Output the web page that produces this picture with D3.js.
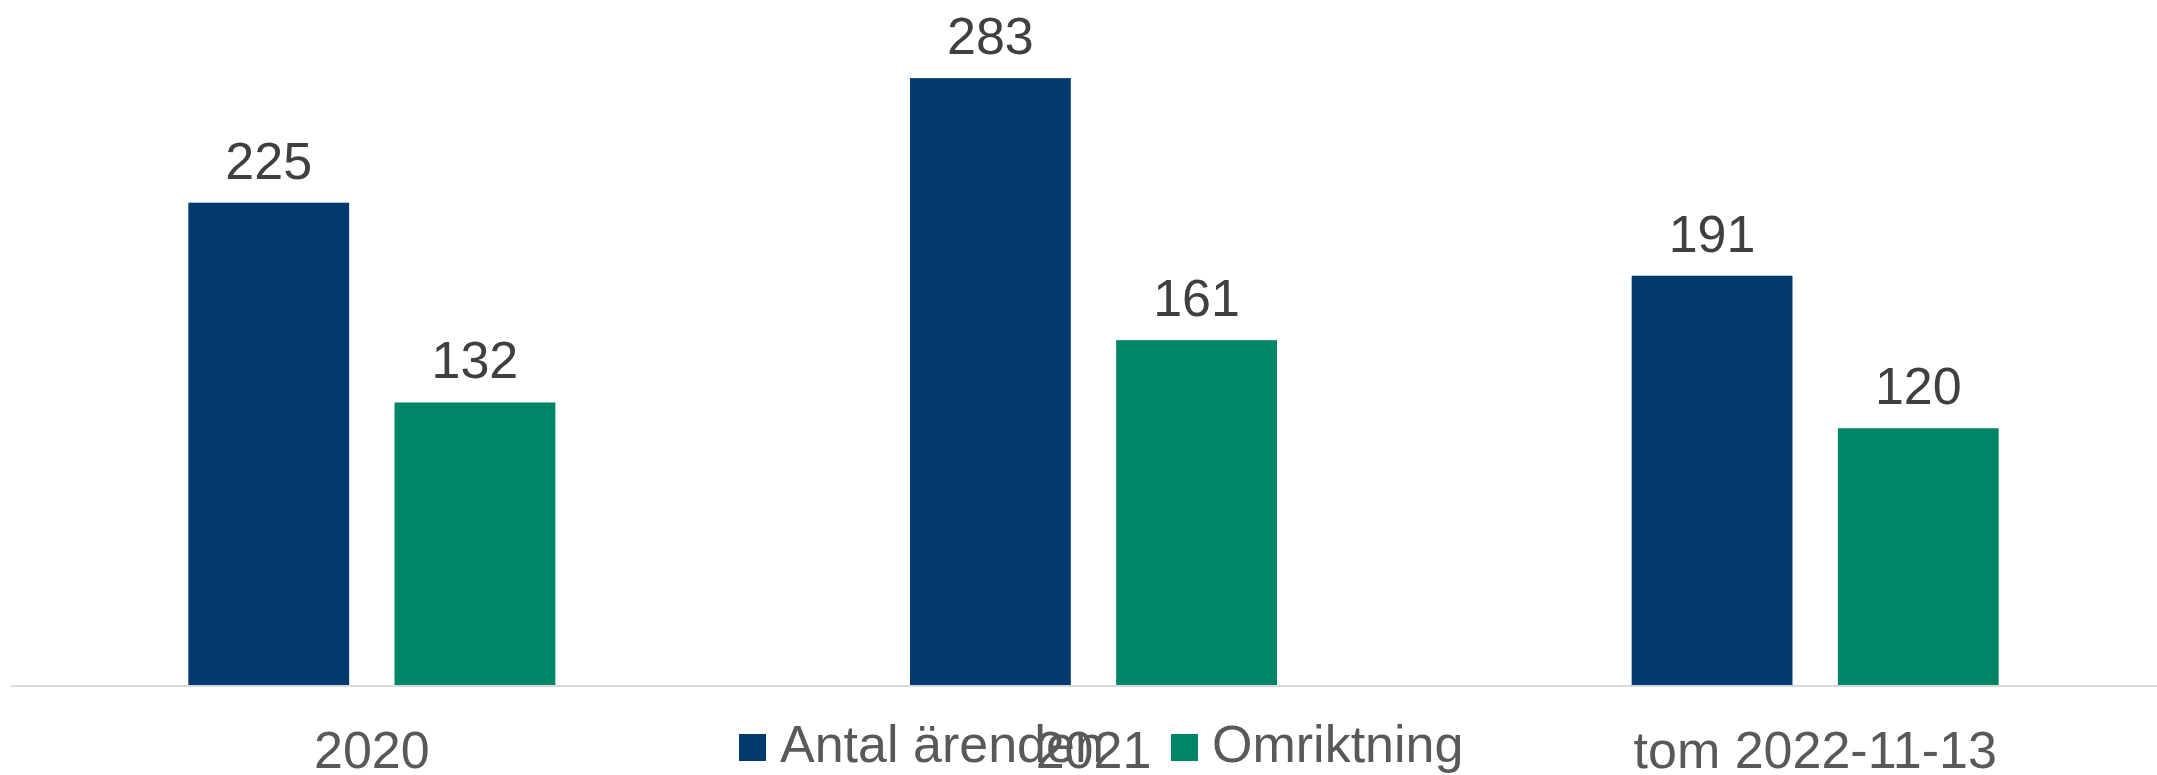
<!DOCTYPE html>
<html>
<head>
<meta charset="utf-8">
<script src="https://cdn.jsdelivr.net/npm/d3@7"></script>
<style>
  html, body { margin: 0; padding: 0; background: #ffffff; }
  svg { display: block; font-family: "Liberation Sans", Arial, sans-serif; }
</style>
</head>
<body>
<svg id="chart" width="2157" height="775"></svg>
<script>
const categories = ["2020", "2021", "tom 2022-11-13"];
const seriesNames = ["Antal ärenden", "Omriktning"];
const antalArenden = [225, 283, 191];
const omriktning = [132, 161, 120];
const seriesValues = [antalArenden, omriktning];
const colors = ["#023A6F", "#008566"];

const svg = d3.select("#chart");
const W = 2157, H = 775;
const baseY = 686;

const x0 = d3.scaleBand().domain(categories).range([11, 2176]).paddingInner(0).paddingOuter(0);
const x1 = d3.scaleBand().domain(seriesNames).range([0, x0.bandwidth()]).paddingInner(0.22).paddingOuter(0.86);
const y = d3.scaleLinear().domain([0, 300]).range([baseY, 41.6]);

const data = [];
categories.forEach((c, i) => {
  seriesNames.forEach((s, j) => {
    data.push({ cat: c, series: s, value: seriesValues[j][i], color: colors[j] });
  });
});

// bars
svg.append("g").selectAll("rect").data(data).join("rect")
  .attr("x", d => x0(d.cat) + x1(d.series))
  .attr("y", d => y(d.value))
  .attr("width", x1.bandwidth())
  .attr("height", d => y(0) - y(d.value))
  .attr("fill", d => d.color);

// axis line
const xAxis = d3.axisBottom(x0).tickSize(0).tickPadding(0);
const gx = svg.append("g").attr("transform", `translate(0,${baseY})`).call(xAxis);
gx.select(".domain").attr("d", `M11,0H${W}`).attr("stroke", "#D9D9D9").attr("stroke-width", 2);
gx.selectAll(".tick text")
  .attr("y", 82).attr("dy", 0)
  .attr("font-size", 52)
  .attr("font-family", "'Liberation Sans', Arial, sans-serif")
  .attr("fill", "#595959");

// value labels
svg.append("g").selectAll("text").data(data).join("text")
  .attr("x", d => x0(d.cat) + x1(d.series) + x1.bandwidth() / 2)
  .attr("y", d => y(d.value) - 24)
  .attr("text-anchor", "middle")
  .attr("font-size", 52)
  .attr("fill", "#404040")
  .text(d => d.value);

// legend
const legendItems = [
  { name: seriesNames[0], color: colors[0], sx: 739, tx: 780 },
  { name: seriesNames[1], color: colors[1], sx: 1171, tx: 1212 }
];
const lg = svg.append("g");
legendItems.forEach(it => {
  lg.append("rect").attr("x", it.sx).attr("y", 734).attr("width", 27).attr("height", 27).attr("fill", it.color);
  lg.append("text").attr("x", it.tx).attr("y", 762).attr("font-size", 52).attr("fill", "#595959").text(it.name);
});
</script>
</body>
</html>
